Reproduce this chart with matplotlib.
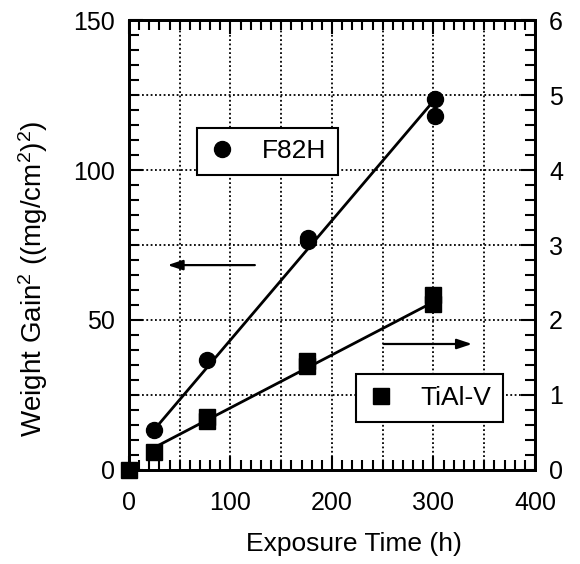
import numpy as np
import matplotlib
matplotlib.use('Agg')
from matplotlib import pyplot as plt
from matplotlib.ticker import MultipleLocator

plt.rcParams['font.family'] = ['Liberation Sans', 'DejaVu Sans']
plt.rcParams['mathtext.fontset'] = 'custom'
plt.rcParams['mathtext.rm'] = 'Liberation Sans'
plt.rcParams['mathtext.it'] = 'Liberation Sans:italic'

# F82H, weight gain^2 (mg/cm2)^2, left axis
f82h_time = [25, 77, 176, 176, 301, 301]
f82h_gain = [13.3, 36.7, 77.5, 76.3, 123.7, 118.1]
f82h_fit_time = [25, 300]
f82h_fit_gain = [13.5, 123.0]

# TiAl-V, right axis
tial_time = [0, 25, 77, 77, 175, 175, 300, 300]
tial_gain = [0.0, 0.24, 0.71, 0.65, 1.45, 1.38, 2.33, 2.21]
tial_fit_time = [25, 300]
tial_fit_gain = [0.30, 2.24]

fig = plt.figure(figsize=(5.8, 5.64), dpi=100)
ax = fig.add_axes([0.2224, 0.1667, 0.70, 0.7978])
ax2 = ax.twinx()

ax.set_xlim(0, 400)
ax.set_ylim(0, 150)
ax2.set_ylim(0, 6)

# grid
for gx in range(50, 400, 50):
    ax.axvline(gx, color='black', lw=1.3, ls=(0, (1, 1.4)), zorder=1)
for gy in range(25, 150, 25):
    ax.axhline(gy, color='black', lw=1.3, ls=(0, (1, 1.4)), zorder=1)

ax.plot(f82h_fit_time, f82h_fit_gain, color='black', lw=2, zorder=3)
ax.plot(f82h_time, f82h_gain, 'o', color='black', ms=11.5, zorder=4, clip_on=False)
ax2.plot(tial_fit_time, tial_fit_gain, color='black', lw=2, zorder=3)
ax2.plot(tial_time, tial_gain, 's', color='black', ms=12, zorder=4, clip_on=False)

# arrows showing which axis
ax.annotate('', xy=(38, 68.3), xytext=(124, 68.3),
            arrowprops=dict(arrowstyle='-|>,head_length=0.9,head_width=0.3',
                            color='black', lw=1.6, shrinkA=0, shrinkB=0))
ax2.annotate('', xy=(338, 1.68), xytext=(251, 1.68),
             arrowprops=dict(arrowstyle='-|>,head_length=0.9,head_width=0.3',
                             color='black', lw=1.6, shrinkA=0, shrinkB=0))

# legends
h1, = ax.plot([], [], 'o', color='black', ms=11.5)
h2, = ax.plot([], [], 's', color='black', ms=12)
leg1 = ax.legend([h1], ['F82H'], loc='center', bbox_to_anchor=(0.342, 0.708),
                 fontsize=19, fancybox=False, edgecolor='black', framealpha=1,
                 borderpad=0.45, handlelength=1.0, handletextpad=1.0)
leg1.get_frame().set_linewidth(1.5)
ax.add_artist(leg1)
leg2 = ax.legend([h2], ['TiAl-V'], loc='center', bbox_to_anchor=(0.740, 0.160),
                 fontsize=19, fancybox=False, edgecolor='black', framealpha=1,
                 borderpad=0.45, handlelength=1.0, handletextpad=1.0)
leg2.get_frame().set_linewidth(1.5)
leg1.set_zorder(5)
leg2.set_zorder(5)

# ticks
ax.xaxis.set_major_locator(MultipleLocator(100))
ax.xaxis.set_minor_locator(MultipleLocator(10))
ax.yaxis.set_major_locator(MultipleLocator(50))
ax.yaxis.set_minor_locator(MultipleLocator(5))
ax2.yaxis.set_major_locator(MultipleLocator(1))
ax2.yaxis.set_minor_locator(MultipleLocator(0.2))
ax.tick_params(which='both', direction='in', top=True, width=1.5, labelsize=18)
ax.tick_params(which='major', length=10)
ax.tick_params(which='minor', length=7)
ax.tick_params(axis='x', pad=15)
ax.tick_params(axis='y', pad=10)
ax2.tick_params(which='both', direction='in', width=1.5, labelsize=18, pad=10)
ax2.tick_params(which='major', length=10)
ax2.tick_params(which='minor', length=7)
for a in (ax, ax2):
    for s in a.spines.values():
        s.set_linewidth(2)

ax.set_xlabel('Exposure Time (h)', fontsize=19)
ax.xaxis.set_label_coords(0.554, -0.137)
ax.set_ylabel('Weight Gain$^2$ ((mg/cm$^2$)$^2$)', fontsize=20)
ax.yaxis.set_label_coords(-0.195, 0.4256)

fig.savefig('out.png')
